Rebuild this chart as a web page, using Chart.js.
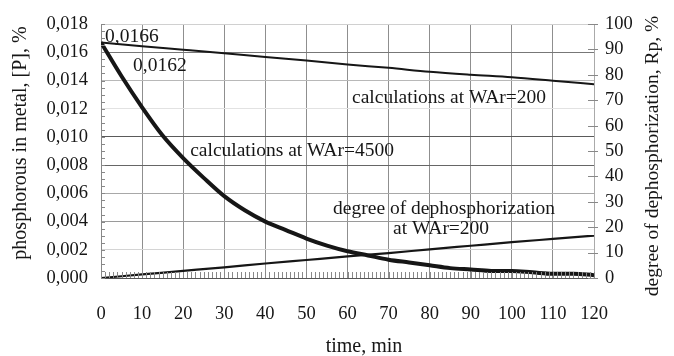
<!DOCTYPE html>
<html><head><meta charset="utf-8">
<script src="https://cdn.jsdelivr.net/npm/chart.js@4/dist/chart.umd.min.js"></script>
<style>html,body{margin:0;padding:0;background:#fff}#c{display:block}</style>
</head><body>
<canvas id="c" width="674" height="356"></canvas>
<script>
// ---- data ----
const timeTicks = [0,10,20,30,40,50,60,70,80,90,100,110,120];
const timeCoarse = [0,10,20,30,40,50,60,70,80,90,100,110,120];
const pWAr200 = [0.0167,0.01643,0.01619,0.01594,0.01566,0.01542,0.01514,0.01490,0.01462,0.01441,0.01423,0.01399,0.01374];
const timeFine = [0,5,10,15,20,25,30,35,40,45,50,55,60,65,70,75,80,85,90,95,100,105,110,115,120];
const pWAr4500 = [0.0167,0.0143,0.0121,0.0101,0.0085,0.0071,0.0058,0.0048,0.0040,0.0034,0.0028,0.0023,0.0019,0.0016,0.0013,0.0011,0.0009,0.0007,0.0006,0.0005,0.0005,0.0004,0.0003,0.0003,0.0002];
const degreeWAr200 = [0,1.4,2.8,4.2,5.7,7.1,8.5,9.8,11.3,12.7,14.1,15.4,16.7];
const leftTickLabels = ['0,000','0,002','0,004','0,006','0,008','0,010','0,012','0,014','0,016','0,018'];
const rightTickLabels = ['0','10','20','30','40','50','60','70','80','90','100'];
const xTitle = 'time, min';
const yLeftTitle = 'phosphorous in metal, [P], %';
const yRightTitle = 'degree of dephosphorization, Rp, %';
const notes = [
  {text:'0,0166', t:1.0, v:0.01709},
  {text:'0,0162', t:7.8, v:0.01507},
  {text:'calculations at WAr=200', t:61.1, v:0.01277},
  {text:'calculations at WAr=4500', t:21.7, v:0.0090},
  {text:'degree of dephosphorization', t:56.5, v:0.00488},
  {text:'at WAr=200', t:71.1, v:0.00349}
];

const FONT = "'Liberation Serif', 'Times New Roman', serif";
const INK = '#161616';
const gridCols = ['#555','#d4d4d4','#9a9a9a','#a8a8a8','#666','#5a5a5a','#e2e2e2','#b8b8b8','#777','#d0d0d0'];

const pts = (xs, ys) => xs.map((x,i)=>({x, y: ys[i]}));

const extras = {
  id:'extras',
  afterDatasetsDraw(chart){
    const {ctx, chartArea:a, scales:{x, y, y1}} = chart;
    ctx.save();
    ctx.strokeStyle = '#888'; ctx.lineWidth = 1;
    ctx.beginPath();
    for (let t=0;t<=120;t++){ const px=Math.round(x.getPixelForValue(t))+0.5; ctx.moveTo(px,a.bottom-6); ctx.lineTo(px,a.bottom); }
    for (let k=0;k<=36;k++){ const py=Math.round(y.getPixelForValue(k*0.0005))+0.5; ctx.moveTo(a.left,py); ctx.lineTo(a.left+4,py); }
    for (let k=0;k<=10;k++){ const py=Math.round(y1.getPixelForValue(k*10))+0.5; ctx.moveTo(a.right-6,py); ctx.lineTo(a.right+4,py); }
    ctx.stroke();
    ctx.fillStyle = INK;
    ctx.font = '19.5px ' + FONT;
    ctx.textAlign = 'left'; ctx.textBaseline = 'middle';
    notes.forEach(n => ctx.fillText(n.text, x.getPixelForValue(n.t), y.getPixelForValue(n.v)));
    ctx.font = '20px ' + FONT;
    ctx.textAlign = 'center';
    ctx.fillText(xTitle, 364, 347);
    ctx.save(); ctx.translate(21, 143); ctx.rotate(-Math.PI/2); ctx.fillText(yLeftTitle, 0, 0); ctx.restore();
    ctx.save(); ctx.translate(653, 156); ctx.rotate(-Math.PI/2); ctx.font='19.5px '+FONT; ctx.fillText(yRightTitle, 0, 0); ctx.restore();
    ctx.restore();
  }
};

new Chart(document.getElementById('c'), {
  type:'line',
  data:{ datasets:[
    {label:'calculations at WAr=200', data: pts(timeCoarse, pWAr200), yAxisID:'y', borderColor:INK, borderWidth:2, pointRadius:0, cubicInterpolationMode:'monotone'},
    {label:'calculations at WAr=4500', data: pts(timeFine, pWAr4500), yAxisID:'y', borderColor:INK, borderWidth:4, pointRadius:0, cubicInterpolationMode:'monotone'},
    {label:'degree of dephosphorization at WAr=200', data: pts(timeCoarse, degreeWAr200), yAxisID:'y1', borderColor:INK, borderWidth:2.2, pointRadius:0, cubicInterpolationMode:'monotone'}
  ]},
  options:{
    responsive:false, animation:false, devicePixelRatio:1,
    layout:{padding:{top:20,left:0,right:0,bottom:0}},
    plugins:{legend:{display:false}, tooltip:{enabled:false}},
    scales:{
      x:{type:'linear', min:0, max:120, afterBuildTicks(s){ s.ticks = timeTicks.map(v=>({value:v})); },
        grid:{color:'#8f8f8f', drawTicks:false}, border:{color:'#555'},
        ticks:{padding:25, color:INK, font:{family:FONT, size:18.5}, maxRotation:0, callback:v=>String(v)},
        afterFit(s){ s.height = 78; }},
      y:{position:'left', min:0, max:0.018,
        afterBuildTicks(s){ s.ticks = leftTickLabels.map((_,i)=>({value:i*0.002})); },
        grid:{color:c=>gridCols[c.index]||'#999', drawTicks:false}, border:{color:'#888'},
        ticks:{padding:13, color:INK, font:{family:FONT, size:18.5}, callback:(v,i)=>leftTickLabels[i]},
        afterFit(s){ s.width = 101; }},
      y1:{position:'right', min:0, max:100,
        afterBuildTicks(s){ s.ticks = rightTickLabels.map((_,i)=>({value:i*10})); },
        grid:{drawOnChartArea:false, drawTicks:false}, border:{color:'#aaa'},
        ticks:{padding:11, color:INK, font:{family:FONT, size:18.5}, callback:(v,i)=>rightTickLabels[i]},
        afterFit(s){ s.width = 80; }}
    }
  },
  plugins:[extras]
});
</script>
</body></html>
